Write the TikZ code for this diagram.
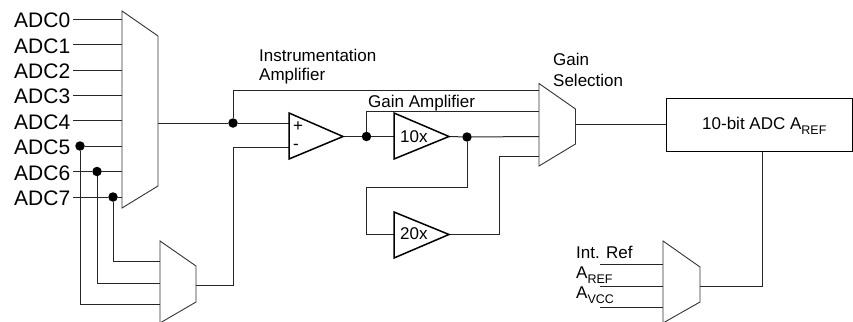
\documentclass[tikz,border=0pt]{standalone}
\usepackage{fontspec}
\setmainfont{Liberation Sans}
\newcommand{\lowtext}[1]{\raisebox{-5.5pt}{\fontsize{12.5}{12.5}\selectfont #1}}
\begin{document}
\begin{tikzpicture}[x=1pt,y=-1pt,
  wire/.style={line width=1pt,draw=black!85},
  muxshape/.style={line width=0.9pt,draw=black!80},
  amp/.style={line width=1.5pt,draw=black,line join=miter},
  dotnode/.style={circle,fill=black,inner sep=0pt,minimum size=9.5pt},
  lab/.style={inner sep=0pt,anchor=base west,font=\fontsize{17}{17}\selectfont},
  sign/.style={inner sep=0pt,anchor=center,font=\fontsize{17}{17}\selectfont},
  adc/.style={inner sep=0pt,anchor=base west,font=\fontsize{21}{21}\selectfont},
  boxnode/.style={draw=black,line width=1pt,inner sep=0pt,minimum width=186.5pt,minimum height=52.5pt}]
\useasboundingbox (0,0) rectangle (853,321);
\clip (0,0) rectangle (853,321);

% muxes
\draw[muxshape] (122,11) -- (158,36) -- (158,186) -- (122,208) -- cycle;
\draw[muxshape] (160,241) -- (196,266) -- (196,302) -- (160,323) -- cycle;
\draw[muxshape] (539,83.5) -- (575.5,109) -- (575.5,144) -- (539,166) -- cycle;
\draw[muxshape] (663,241) -- (700,267) -- (700,302) -- (663,323) -- cycle;

% labels on the left
\node[adc] (adc0) at (14,28) {ADC0};
\node[adc] (adc1) at (14,53) {ADC1};
\node[adc] (adc2) at (14,78) {ADC2};
\node[adc] (adc3) at (14,103.5) {ADC3};
\node[adc] (adc4) at (14,129) {ADC4};
\node[adc] (adc5) at (14,154) {ADC5};
\node[adc] (adc6) at (14,180) {ADC6};
\node[adc] (adc7) at (14,205) {ADC7};

% junctions
\node[dotnode] (d5) at (80,146) {};
\node[dotnode] (d6) at (97,171.5) {};
\node[dotnode] (d7) at (113,197) {};
\node[dotnode] (dm) at (233,123) {};
\node[dotnode] (di) at (366.5,136.5) {};
\node[dotnode] (dg) at (467,137) {};

% named ports
\coordinate (i0) at (122,19.5);
\coordinate (i1) at (122,45);
\coordinate (i2) at (122,70);
\coordinate (i3) at (122,95);
\coordinate (i4) at (122,120.5);
\coordinate (i5) at (122,146);
\coordinate (i6) at (122,171.5);
\coordinate (i7) at (122,197);
\coordinate (mo) at (158,123);
\coordinate (s7) at (160,261);
\coordinate (s6) at (160,283);
\coordinate (s5) at (160,304);
\coordinate (so) at (196,285);
\coordinate (pp) at (289,123);
\coordinate (pm) at (289,147);
\coordinate (po) at (343,136.5);
\coordinate (t10i) at (394,136.5);
\coordinate (t10o) at (449,136.5);
\coordinate (t20i) at (394,234);
\coordinate (t20o) at (449,234);
\coordinate (g1) at (539,90);
\coordinate (g2) at (539,111);
\coordinate (g3) at (539,136.5);
\coordinate (g4) at (539,156.5);
\coordinate (go) at (575.5,124.5);
\coordinate (r1) at (663,264);
\coordinate (r2) at (663,286);
\coordinate (r3) at (663,307);
\coordinate (l1) at (600,264);
\coordinate (l2) at (600,286);
\coordinate (l3) at (600,307);
\coordinate (ro) at (700,286);

% ADC box
\node[boxnode] (adcbox) at (759.25,124.75) {};
\node[lab] (adct) at (702,129) {10-bit ADC A\lowtext{REF}};

% input wires
\draw[wire] (73,19.5) -- (i0);
\draw[wire] (73,45) -- (i1);
\draw[wire] (73,70) -- (i2);
\draw[wire] (73,95) -- (i3);
\draw[wire] (73,120.5) -- (i4);
\draw[wire] (d5) -- (i5);
\draw[wire] (73,171.5) -- (d6) -- (i6);
\draw[wire] (73,197) -- (d7) -- (i7);
\draw[wire] (d7) |- (s7);
\draw[wire] (d6) |- (s6);
\draw[wire] (d5) |- (s5);
\draw[wire] (mo) -- (dm) -- (pp);
\draw[wire] (dm) |- (g1);
\draw[wire] (so) -| (233,147) -- (pm);
\draw[wire] (po) -- (di) -- (t10i);
\draw[wire] (di) |- (g2);
\draw[wire] (t10o) -- (dg) -- (g3);
\draw[wire] (dg) |- (366,187) |- (t20i);
\draw[wire] (t20o) -| (499,156.5) -- (g4);
\draw[wire] (go) -- (go -| adcbox.west);
\draw[wire] (adcbox.south -| 762,0) -- (762,286) -- (ro);
\draw[wire] (l1) -- (r1);
\draw[wire] (l2) -- (r2);
\draw[wire] (l3) -- (r3);

% amplifiers
\draw[amp] (289,113) -- (343,136.5) -- (289,159) -- cycle;
\draw[amp] (394,113) -- (449,136.5) -- (394,159) -- cycle;
\draw[amp] (394,212) -- (449,234.5) -- (394,258) -- cycle;
\node[sign] (plus) at (298,126.5) {+};
\node[sign] (minus) at (296,147) {-};
\node[lab] (x10) at (400,142) {10x};
\node[lab] (x20) at (400,239) {20x};

% captions
\node[lab] (c1) at (259,62) {Instrumentation};
\node[lab] (c2) at (259,81) {Amplifier};
\node[lab] (c3) at (368,107) {Gain Amplifier};
\node[lab] (c4) at (553,65) {Gain};
\node[lab] (c5) at (553,86) {Selection};
\node[lab] (c6) at (576,258) {Int. Ref};
\node[lab] (c7) at (576,278) {A\lowtext{REF}};
\node[lab] (c8) at (576,298) {A\lowtext{VCC}};
\end{tikzpicture}
\end{document}
